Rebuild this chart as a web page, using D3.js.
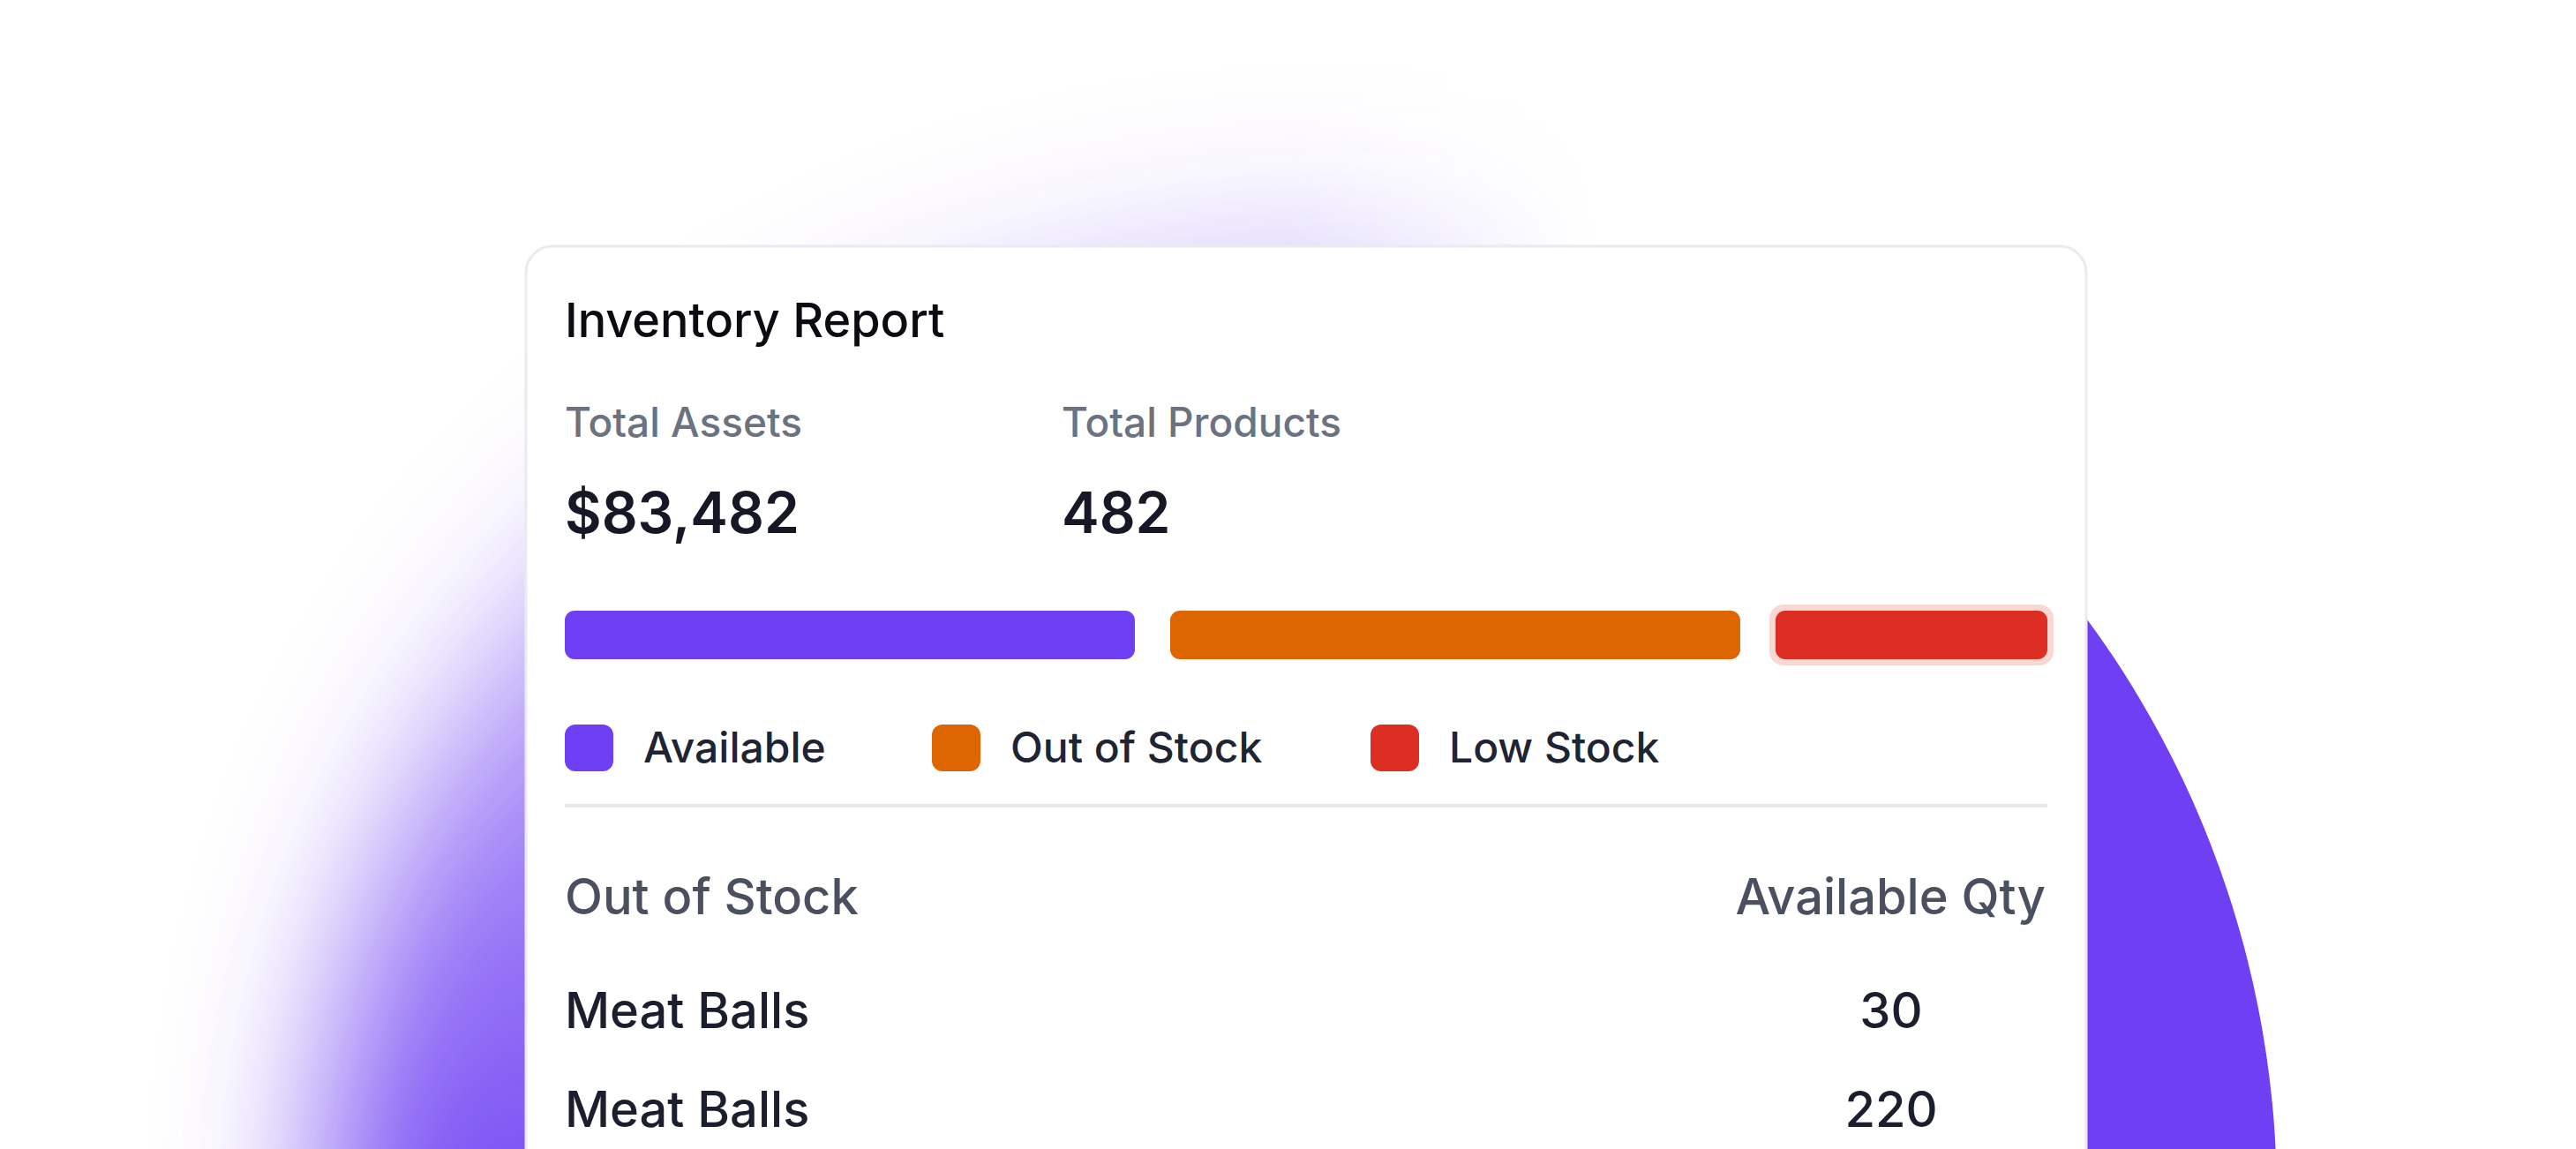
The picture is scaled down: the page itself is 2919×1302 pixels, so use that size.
<!DOCTYPE html>
<html><head><meta charset="utf-8">
<script src="https://cdn.jsdelivr.net/npm/d3@7"></script>
<style>body{margin:0;background:#fff;}svg{display:block;font-family:Inter,"Noto Sans",sans-serif;}</style>
</head><body>
<svg id="chart" width="2919" height="1302"></svg>
<script>
// data
var segments = ["Available", "Out of Stock", "Low Stock"];
var segmentShare = [346, 346, 165];   // bar widths
var segmentColors = ["#6e3ff3", "#dd6602", "#dc2e22"];
var statLabels = ["Total Assets", "Total Products"];
var statValues = ["$83,482", "482"];
var tableHead = ["Out of Stock", "Available Qty"];
var rowNames = ["Meat Balls", "Meat Balls"];
var rowQty = [30, 220];

var svg = d3.select("#chart");
var defs = svg.append("defs");

// background blob: soft on the top/left, crisp on the right
var grad = defs.append("linearGradient").attr("id", "blobGrad")
  .attr("x1", "0.3").attr("y1", "0").attr("x2", "0.4").attr("y2", "0.5");
grad.append("stop").attr("offset", "0").attr("stop-color", "#6e3ff3").attr("stop-opacity", 0.12);
grad.append("stop").attr("offset", "0.6").attr("stop-color", "#6e3ff3").attr("stop-opacity", 0.7);
grad.append("stop").attr("offset", "1").attr("stop-color", "#6e3ff3").attr("stop-opacity", 1);
defs.append("filter").attr("id", "blur").attr("x", "-30%").attr("y", "-30%").attr("width", "160%").attr("height", "160%")
  .append("feGaussianBlur").attr("stdDeviation", 85);
var mgrad = defs.append("linearGradient").attr("id", "maskGrad");
mgrad.append("stop").attr("offset", "0.6").attr("stop-color", "#000");
mgrad.append("stop").attr("offset", "0.72").attr("stop-color", "#fff");
defs.append("mask").attr("id", "rightMask").attr("maskContentUnits", "objectBoundingBox")
  .append("rect").attr("width", 1).attr("height", 1).attr("fill", "url(#maskGrad)");
var lgrad = defs.append("linearGradient").attr("id", "leftGrad");
lgrad.append("stop").attr("offset", "0.5").attr("stop-color", "#fff");
lgrad.append("stop").attr("offset", "0.62").attr("stop-color", "#000");
defs.append("mask").attr("id", "leftMask").attr("maskUnits", "userSpaceOnUse")
  .attr("x", 0).attr("y", 0).attr("width", 2919).attr("height", 1302)
  .append("rect").attr("width", 2919).attr("height", 1302).attr("fill", "url(#leftGrad)");

var cx = 1474, cy = 1357, r = 1106;
svg.append("g").attr("mask", "url(#leftMask)")
  .append("circle").attr("cx", cx).attr("cy", cy).attr("r", r)
  .attr("fill", "url(#blobGrad)").attr("filter", "url(#blur)");
svg.append("circle").attr("cx", cx).attr("cy", cy).attr("r", r)
  .attr("fill", "#6e3ff3").attr("mask", "url(#rightMask)");

// card
var card = svg.append("g");
card.append("rect").attr("x", 596).attr("y", 279).attr("width", 1768).attr("height", 1100)
  .attr("rx", 30).attr("fill", "#fff").attr("stroke", "#ebebef").attr("stroke-width", 3);

card.append("text").attr("x", 640).attr("y", 382).attr("font-size", 54).attr("font-weight", 500)
  .attr("fill", "#0b0b12").text("Inventory Report");

var statX = d3.scalePoint().domain(statLabels).range([640, 1203]);
statLabels.forEach(function(s, i) {
  card.append("text").attr("x", statX(s)).attr("y", 495).attr("font-size", 46).attr("font-weight", 500)
    .attr("fill", "#6b7280").text(s);
  card.append("text").attr("x", statX(s)).attr("y", 604).attr("font-size", 64).attr("font-weight", 600)
    .attr("fill", "#161826").text(statValues[i]);
});

// stacked bar
var gap = 40;
var total = d3.sum(segmentShare);
var x = d3.scaleLinear().domain([0, total]).range([640, 2320 - gap * (segments.length - 1)]);
var acc = 0;
segments.forEach(function(s, i) {
  var x0 = x(acc) + gap * i, w = x(acc + segmentShare[i]) - x(acc);
  if (i === segments.length - 1) {
    card.append("rect").attr("x", x0 - 7).attr("y", 685).attr("width", w + 14).attr("height", 69)
      .attr("rx", 16).attr("fill", "#fad7d3");
  }
  card.append("rect").attr("x", x0).attr("y", 692).attr("width", w).attr("height", 55)
    .attr("rx", 11).attr("fill", segmentColors[i]);
  acc += segmentShare[i];
});

// legend
var legX = [640, 1056, 1553];
segments.forEach(function(s, i) {
  card.append("rect").attr("x", legX[i]).attr("y", 821).attr("width", 55).attr("height", 53)
    .attr("rx", 12).attr("fill", segmentColors[i]);
  card.append("text").attr("x", legX[i] + 89).attr("y", 864).attr("font-size", 48).attr("font-weight", 500)
    .attr("fill", "#1f2433").text(s);
});

card.append("line").attr("x1", 640).attr("x2", 2320).attr("y1", 913).attr("y2", 913)
  .attr("stroke", "#e6e7eb").attr("stroke-width", 4);

// table
card.append("text").attr("x", 640).attr("y", 1036).attr("font-size", 56).attr("font-weight", 500)
  .attr("fill", "#4b5060").text(tableHead[0]);
card.append("text").attr("x", 2318).attr("y", 1036).attr("font-size", 56).attr("font-weight", 500)
  .attr("fill", "#4b5060").attr("text-anchor", "end").text(tableHead[1]);
var rowY = d3.scaleLinear().domain([0, 1]).range([1165, 1277]);
rowNames.forEach(function(n, i) {
  card.append("text").attr("x", 640).attr("y", rowY(i)).attr("font-size", 56).attr("font-weight", 500)
    .attr("fill", "#1b1e2c").text(n);
  card.append("text").attr("x", 2143).attr("y", rowY(i)).attr("font-size", 56).attr("font-weight", 500)
    .attr("fill", "#1b1e2c").attr("text-anchor", "middle").text(rowQty[i]);
});
</script>
</body></html>
